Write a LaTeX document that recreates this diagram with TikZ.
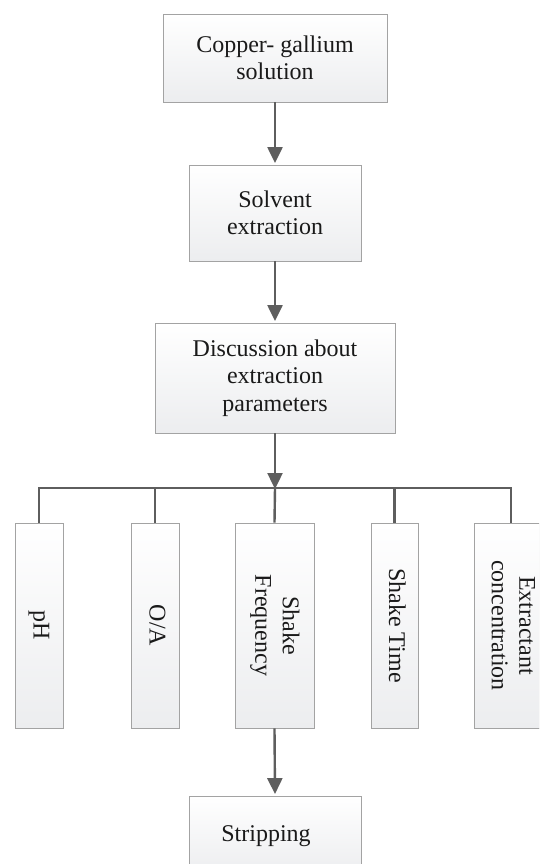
\documentclass[tikz,border=0pt]{standalone}
\usepackage{fontspec}
\setmainfont{Liberation Serif}
\usetikzlibrary{arrows.meta,shadows}
\definecolor{linegray}{HTML}{5E5E5E}
\definecolor{boxborder}{HTML}{A3A3A3}
\definecolor{boxbottom}{HTML}{ECEDEF}
\definecolor{txt}{HTML}{1A1A1A}
\tikzset{
  flowbox/.style={draw=boxborder, line width=0.9pt, top color=white, bottom color=boxbottom,
    drop shadow={shadow xshift=1.2pt, shadow yshift=-1.2pt, opacity=0.18, fill=black},
    inner sep=0pt, text=txt, align=center,
    font=\fontsize{24}{27.5}\selectfont},
  conn/.style={draw=linegray, line width=2.4pt},
  arr/.style={conn, -{Triangle[length=16pt,width=15pt]}, shorten >=1.5pt}
}
\newcommand{\vtext}[1]{\rotatebox{-90}{\begin{tabular}{@{}c@{}}#1\end{tabular}}}
\begin{document}
\begin{tikzpicture}[x=1pt,y=-1pt]
\useasboundingbox (0,0) rectangle (539,864);
\clip (0,0) rectangle (539,864);
\fill[white] (0,0) rectangle (539,864);
% main column
\node[flowbox, minimum width=224pt, minimum height=88pt] (b1) at (275,58) {Copper- gallium\\solution};
\node[flowbox, minimum width=172pt, minimum height=96pt] (b2) at (275,213) {Solvent\\extraction};
\node[flowbox, minimum width=240pt, minimum height=110pt] (b3) at (275,378) {Discussion about\\extraction\\parameters};
% parameter boxes
\node[flowbox, minimum width=48pt, minimum height=205pt] (ph) at (39,625.5) {\vtext{pH}};
\node[flowbox, minimum width=48pt, minimum height=205pt] (oa) at (155,625.5) {\vtext{O/A}};
\node[flowbox, minimum width=79pt, minimum height=205pt] (sf) at (274.5,625.5) {\vtext{Shake\\Frequency}};
\node[flowbox, minimum width=47pt, minimum height=205pt] (st) at (394.5,625.5) {\vtext{Shake Time}};
\node[flowbox, minimum width=74pt, minimum height=205pt] (ec) at (511,625.5) {\vtext{Extractant\\concentration}};
\node[flowbox, minimum width=172pt, minimum height=80pt] (strip) at (275,836) {\hspace*{-18pt}Stripping};
% bus
\coordinate (bus) at (275,488);
\draw[arr] (b1.south) -- (b2.north);
\draw[arr] (b2.south) -- (b3.north);
\draw[conn] (ph.north) |- (ec.north |- bus) -- (ec.north);
\draw[conn] (oa.north) -- (oa.north |- bus);
\draw[conn] (st.north) -- (st.north |- bus);
\draw[conn] (bus) -- (sf.north);
\draw[arr, shorten >=-1pt] (b3.south) -- (bus);
\draw[arr] (sf.south) -- (strip.north);
\end{tikzpicture}
\end{document}
